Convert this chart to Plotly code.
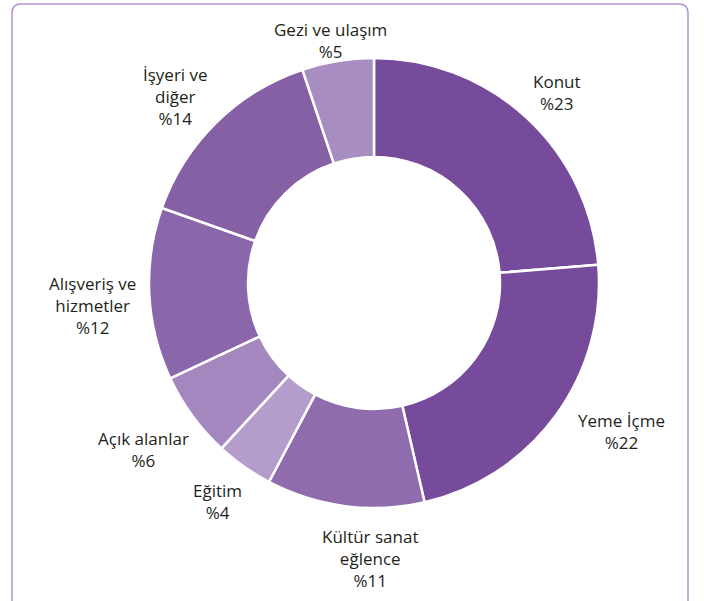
import plotly.graph_objects as go

labels = ["Konut", "Yeme İçme", "Kültür sanat<br>eğlence", "Eğitim", "Açık alanlar",
          "Alışveriş ve<br>hizmetler", "İşyeri ve<br>diğer", "Gezi ve ulaşım"]
values = [23, 22, 11, 4, 6, 12, 14, 5]
colors = ["#774b9b", "#774b9b", "#8f6cae", "#b49dca", "#a487be",
          "#8a67aa", "#8560a5", "#a78dc1"]
# label centre positions in pixels (x, y) of the 704x601 canvas
label_pos = [(557, 93), (621, 431), (370, 558), (218, 501), (143, 449),
             (92, 305), (175, 97), (330, 41)]

W, H = 704, 601
cx, cy, r = 374, 283, 225

fig = go.Figure(go.Pie(
    labels=labels, values=values, sort=False, direction="clockwise", rotation=0,
    hole=0.56, textinfo="none", hoverinfo="skip",
    marker=dict(colors=colors, line=dict(color="white", width=2.5)),
    domain=dict(x=[(cx - r) / W, (cx + r) / W], y=[(H - cy - r) / H, (H - cy + r) / H]),
    showlegend=False,
))

for lab, val, (px, py) in zip(labels, values, label_pos):
    fig.add_annotation(text=f"{lab}<br>%{val}", x=px / W, y=1 - py / H,
                       xref="paper", yref="paper", showarrow=False,
                       xanchor="center", yanchor="middle", align="center",
                       font=dict(family="Open Sans", size=17, color="#231f20"))

# rounded frame
x0, x1, y0, y1, rr = 12, 688, 4, 620, 9
def P(x, y):
    return f"{x / W:.5f},{1 - y / H:.5f}"
path = (f"M {P(x0, y1)} L {P(x0, y0 + rr)} Q {P(x0, y0)} {P(x0 + rr, y0)} "
        f"L {P(x1 - rr, y0)} Q {P(x1, y0)} {P(x1, y0 + rr)} L {P(x1, y1)}")
fig.add_shape(type="path", path=path, xref="paper", yref="paper",
              line=dict(color="#b491cf", width=1.5))

fig.update_layout(width=W, height=H, margin=dict(l=0, r=0, t=0, b=0),
                  paper_bgcolor="white", plot_bgcolor="white")
fig.write_html("out.html")
